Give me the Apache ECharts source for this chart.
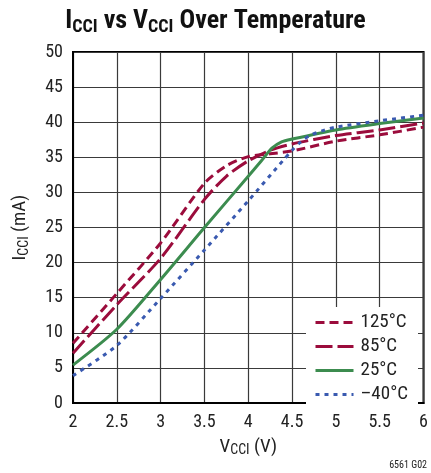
<!DOCTYPE html>
<html>
<head>
<meta charset="utf-8">
<script src="https://cdn.jsdelivr.net/npm/echarts@6/dist/echarts.min.js"></script>
<style>html,body{margin:0;padding:0;background:#fff}#c{width:431px;height:473px}</style>
</head>
<body>
<div id="c"></div>
<script>
// Data
const xTicks = [2, 2.5, 3, 3.5, 4, 4.5, 5, 5.5, 6];
const yTicks = [0, 5, 10, 15, 20, 25, 30, 35, 40, 45, 50];
const seriesNames = ['125°C', '85°C', '25°C', '–40°C'];

const v125 = [2.0, 2.5, 3.0, 3.5, 3.75, 4.0, 4.25, 4.5, 5.0, 5.5, 6.0];
const i125 = [8.5, 15.6, 22.8, 31.3, 33.8, 35.1, 35.5, 35.9, 37.3, 38.2, 39.3];

const v85 = [2.0, 2.5, 3.0, 3.5, 3.75, 4.0, 4.25, 4.5, 5.0, 5.5, 6.0];
const i85 = [7.1, 14.0, 20.6, 29.0, 32.3, 34.5, 36.0, 36.9, 38.1, 38.9, 39.9];

const v25 = [2.0, 2.5, 3.0, 3.5, 4.0, 4.15, 4.27, 4.38, 4.5, 5.0, 5.5, 6.0];
const i25 = [5.4, 10.5, 17.6, 25.0, 32.3, 34.5, 36.3, 37.2, 37.6, 38.9, 39.8, 40.6];

const vm40 = [2.0, 2.5, 3.0, 3.5, 4.0, 4.4, 4.5, 4.6, 4.7, 4.85, 5.0, 5.5, 6.0];
const im40 = [3.9, 8.2, 14.9, 21.8, 28.8, 34.6, 36.0, 37.2, 38.1, 38.8, 39.3, 40.2, 41.0];

const FONT = '"Liberation Sans Narrow", "Roboto Condensed", "DejaVu Sans Condensed", sans-serif';
const RED = '#9b0c3c', GREEN = '#3c8c4f', BLUE = '#3a5ab0';

function pairs(xs, ys) { return xs.map((x, k) => [x, ys[k]]); }

const chart = echarts.init(document.getElementById('c'), null, {renderer: 'canvas'});

function mkSeries(name, xs, ys, color, dash) {
  return {
    name: name, type: 'line', data: pairs(xs, ys),
    smooth: 0.25, showSymbol: false, symbol: 'none',
    lineStyle: {color: color, width: 3, type: dash},
    itemStyle: {color: color},
    z: 3
  };
}

chart.setOption({
  animation: false,
  backgroundColor: '#fff',
  title: {
    text: '{b|I}{s|CCI}{b| vs V}{s|CCI}{b| Over Temperature}',
    left: 'center', top: 1,
    textStyle: {
      rich: {
        b: {fontFamily: FONT, fontWeight: 'bold', fontSize: 26, color: '#111', lineHeight: 30},
        s: {fontFamily: FONT, fontWeight: 'bold', fontSize: 18, color: '#111', lineHeight: 30, padding: [12, 0, 0, 0]}
      }
    }
  },
  grid: {left: 73, right: 5, top: 52, bottom: 70, show: true, borderColor: '#000', borderWidth: 2, backgroundColor: 'transparent'},
  legend: {
    orient: 'vertical', left: 306, top: 307,
    data: seriesNames,
    backgroundColor: '#fff', padding: [6, 10, 6, 8],
    itemWidth: 38, itemHeight: 12, itemGap: 5,
    itemStyle: {opacity: 0},
    lineStyle: {width: 3},
    textStyle: {fontFamily: FONT, fontSize: 19, color: '#222', lineHeight: 16, padding: [0, 0, 0, 2]}
  },
  xAxis: {
    type: 'value', min: 2, max: 6, interval: 0.5,
    name: '{n|V}{s|CCI}{n| (V)}', nameLocation: 'middle', nameGap: 32,
    nameTextStyle: {rich: {
      n: {fontFamily: FONT, fontSize: 19, color: '#222', lineHeight: 22},
      s: {fontFamily: FONT, fontSize: 14, color: '#222', lineHeight: 22, padding: [8, 0, 0, 0]}
    }},
    axisLine: {show: true, lineStyle: {color: '#000', width: 2}},
    axisTick: {show: false},
    axisLabel: {fontFamily: FONT, fontSize: 18, color: '#222', margin: 10,
      formatter: v => String(v)},
    splitLine: {show: true, lineStyle: {color: '#3a3a3a', width: 1.2}}
  },
  yAxis: {
    type: 'value', min: 0, max: 50, interval: 5,
    name: '{n|I}{s|CCI}{n| (mA)}', nameLocation: 'middle', nameGap: 42, nameRotate: 90,
    nameTextStyle: {rich: {
      n: {fontFamily: FONT, fontSize: 19, color: '#222', lineHeight: 22},
      s: {fontFamily: FONT, fontSize: 14, color: '#222', lineHeight: 22, padding: [8, 0, 0, 0]}
    }},
    axisLine: {show: true, lineStyle: {color: '#000', width: 2}},
    axisTick: {show: false},
    axisLabel: {fontFamily: FONT, fontSize: 18, color: '#222', margin: 10},
    splitLine: {show: true, lineStyle: {color: '#3a3a3a', width: 1.2}}
  },
  graphic: [{
    type: 'text', right: 4, bottom: 3,
    style: {text: '6561 G02', font: '10px ' + FONT, fill: '#222'}
  }],
  series: [
    mkSeries(seriesNames[0], v125, i125, RED, [9, 5]),
    mkSeries(seriesNames[1], v85, i85, RED, [17, 5]),
    mkSeries(seriesNames[2], v25, i25, GREEN, 'solid'),
    mkSeries(seriesNames[3], vm40, im40, BLUE, [4, 5])
  ]
});
</script>
</body>
</html>
